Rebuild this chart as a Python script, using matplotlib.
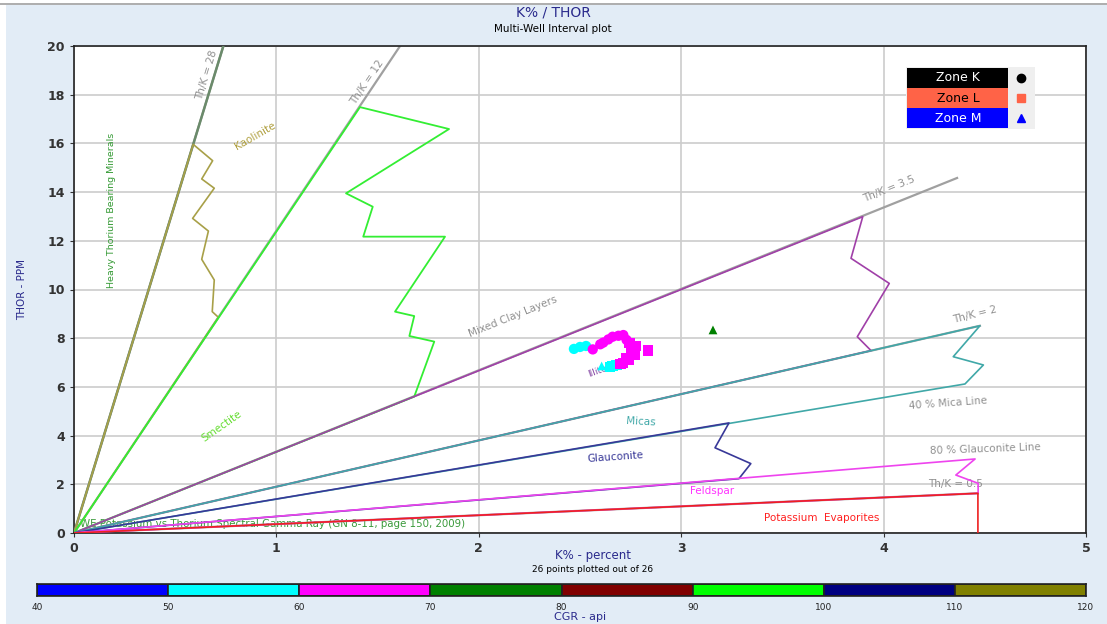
import numpy as np
import matplotlib
matplotlib.use('Agg')
import matplotlib.pyplot as plt
from matplotlib.colors import ListedColormap, BoundaryNorm
from matplotlib.patches import Rectangle
from matplotlib.lines import Line2D

# ---- data ----
# zone boundaries (K%, Th ppm)
kaolinite_k = [0, 0.589, 0.685, 0.631, 0.693, 0.586, 0.664, 0.631, 0.693, 0.683, 0.713, 0]
kaolinite_th = [0, 15.96, 15.29, 14.54, 14.16, 12.92, 12.40, 11.24, 10.39, 9.09, 8.86, 0]
smectite_k = [0, 1.413, 1.853, 1.344, 1.476, 1.429, 1.833, 1.586, 1.681, 1.657, 1.780, 1.681, 0]
smectite_th = [0, 17.49, 16.59, 13.95, 13.40, 12.17, 12.17, 9.09, 8.91, 8.09, 7.86, 5.60, 0]
illite_k = [0, 3.897, 3.839, 4.028, 3.870, 3.938, 0]
illite_th = [0, 12.99, 11.28, 10.25, 8.06, 7.49, 0]
mica_k = [0, 4.476, 4.344, 4.493, 4.402, 0]
mica_th = [0, 8.51, 7.24, 6.90, 6.12, 0]
glauconite_k = [0, 3.236, 3.167, 3.344, 3.285, 0]
glauconite_th = [0, 4.52, 3.50, 2.85, 2.23, 0]
feldspar_k = [0, 4.452, 4.357, 4.467, 4.467, 0]
feldspar_th = [0, 3.04, 2.38, 2.04, 1.63, 0]
evaporite_k = [0, 4.466, 4.466]
evaporite_th = [0, 1.63, 0]

# Th/K reference lines: end points
ref_k = [0.738, 1.611, 4.363, 4.476, 4.466]
ref_th = [20.0, 20.0, 14.58, 8.51, 1.63]

# well points
zone_k_k = [2.470, 2.500, 2.530, 2.563, 2.615, 2.661, 2.714, 2.730, 2.640, 2.690, 2.600]
zone_k_th = [7.56, 7.64, 7.68, 7.54, 7.82, 8.06, 8.13, 7.93, 7.95, 8.10, 7.75]
zone_k_cgr = [55, 55, 55, 65, 65, 65, 65, 65, 65, 65, 65]
zone_l_k = [2.777, 2.755, 2.772, 2.739, 2.837, 2.711, 2.760, 2.745, 2.730, 2.681, 2.660, 2.648, 2.700]
zone_l_th = [7.68, 7.45, 7.31, 7.10, 7.49, 6.99, 7.60, 7.80, 7.20, 6.90, 6.85, 6.83, 6.95]
zone_l_cgr = [65, 65, 65, 65, 65, 65, 65, 65, 65, 55, 55, 55, 65]
zone_m_k = [2.607, 3.157]
zone_m_th = [6.86, 8.34]
zone_m_cgr = [55, 75]

cgr_bounds = [40, 50, 60, 70, 80, 90, 100, 110, 120]
cgr_colors = ['#0000ff', '#00ffff', '#ff00ff', '#008000', '#800000', '#00ff00', '#000080', '#808000']

W, H = 1107, 624
bg = '#e2ecf6'
navy = '#2a2a8c'

fig = plt.figure(figsize=(W / 100, H / 100), dpi=100, facecolor='white')
fig.patches.append(Rectangle((6 / W, 0), 1 - 6 / W, (H - 5) / H, transform=fig.transFigure,
                             facecolor=bg, edgecolor='none', zorder=-10))
fig.lines.append(Line2D([0, 1], [(H - 4) / H] * 2, transform=fig.transFigure, color='#a0a0a0', lw=1.2))

def fx(px):
    return px / W

def fy(py):
    return 1 - py / H

ax = fig.add_axes([fx(74), fy(533), fx(1086) - fx(74), fy(46) - fy(533)])
ax.set_facecolor('white')
ax.set_xlim(0, 5)
ax.set_ylim(0, 20)
ax.set_xticks(range(0, 6))
ax.set_yticks(range(0, 21, 2))
ax.grid(True, color='#cccccc', lw=1.2, zorder=0)
ax.set_axisbelow(True)
ax.tick_params(labelsize=9, colors='#333333', length=3)
for lab in ax.get_xticklabels() + ax.get_yticklabels():
    lab.set_fontweight('bold')
for s in ax.spines.values():
    s.set_color('#222222')
    s.set_linewidth(1.2)

cmap = ListedColormap(cgr_colors)
norm = BoundaryNorm(cgr_bounds, cmap.N)

# reference Th/K lines (grey)
for k, th in zip(ref_k, ref_th):
    ax.plot([0, k], [0, th], color='#a0a0a0', lw=1.6, zorder=2)
ax.plot([0, ref_k[0]], [0, ref_th[0]], color='#6b8b6b', lw=1.8, zorder=3)

# zone outlines
ax.plot(kaolinite_k, kaolinite_th, color='#a8a048', lw=1.2, zorder=3)
ax.plot(smectite_k, smectite_th, color='#33ee33', lw=1.3, zorder=3)
ax.plot(illite_k, illite_th, color='#a040a8', lw=1.2, zorder=3)
ax.plot(mica_k, mica_th, color='#40a8a8', lw=1.2, zorder=3)
ax.plot(glauconite_k, glauconite_th, color='#383898', lw=1.2, zorder=3)
ax.plot(feldspar_k, feldspar_th, color='#ee44ee', lw=1.2, zorder=3)
ax.plot(evaporite_k, evaporite_th, color='#ee2020', lw=1.2, zorder=3)

# zone labels
labels = [
    ('Th/K = 28', 0.657, 18.81, 73, '#909090', 7.5),
    ('Th/K = 12', 1.448, 18.52, 56, '#909090', 7.5),
    ('Kaolinite', 0.894, 16.30, 30, '#b0a040', 7.5),
    ('Heavy Thorium Bearing Minerals', 0.183, 13.27, 90, '#339933', 6.8),
    ('Smectite', 0.731, 4.39, 35, '#66dd33', 7.5),
    ('Mixed Clay Layers', 2.169, 8.87, 22, '#909090', 7.5),
    ('Th/K = 3.5', 4.027, 14.13, 22, '#909090', 7.5),
    ('Illite', 2.589, 6.65, 20, '#8040a0', 6.5),
    ('Th/K = 2', 4.452, 8.95, 14, '#909090', 7.5),
    ('Micas', 2.801, 4.56, -3, '#40a8a8', 7.5),
    ('40 % Mica Line', 4.318, 5.34, 4, '#909090', 7.5),
    ('Glauconite', 2.673, 3.12, 4, '#383898', 7.5),
    ('80 % Glauconite Line', 4.501, 3.45, 2, '#909090', 7.5),
    ('Feldspar', 3.152, 1.72, 0, '#ff33ff', 7.5),
    ('Th/K = 0.5', 4.353, 2.01, 0, '#909090', 7.5),
    ('Potassium  Evaporites', 3.696, 0.62, 0, '#ff2020', 7.5),
]
for txt, k, th, rot, col, fs in labels:
    ax.text(k, th, txt, rotation=rot, color=col, fontsize=fs, ha='center', va='center',
            rotation_mode='anchor', zorder=2.5)

ax.text(0.03, 0.37, 'WE Potassium vs Thorium Spectral Gamma Ray (GN 8-11, page 150, 2009)',
        color='#3a9a3a', fontsize=7.4, ha='left', va='center', zorder=1.5)

# well data
ax.scatter(zone_k_k, zone_k_th, c=zone_k_cgr, cmap=cmap, norm=norm, marker='o', s=55,
           edgecolors='none', zorder=5)
ax.scatter(zone_l_k, zone_l_th, c=zone_l_cgr, cmap=cmap, norm=norm, marker='s', s=55,
           edgecolors='none', zorder=5)
ax.scatter(zone_m_k, zone_m_th, c=zone_m_cgr, cmap=cmap, norm=norm, marker='^', s=40,
           edgecolors='none', zorder=5)

# titles and axis labels
fig.text(fx(553), fy(12), 'K% / THOR', color=navy, fontsize=10, ha='center', va='center')
fig.text(fx(553), fy(29), 'Multi-Well Interval plot', color='black', fontsize=7.5, ha='center', va='center')
fig.text(fx(22), fy(290), 'THOR - PPM', color=navy, fontsize=7.5, rotation=90, ha='center', va='center')
fig.text(fx(593), fy(555), 'K% - percent', color=navy, fontsize=8.5, ha='center', va='center')
fig.text(fx(593), fy(569), '26 points plotted out of 26', color='black', fontsize=6.5, ha='center', va='center')

# legend
lax = fig.add_axes([fx(906), fy(129), fx(1035) - fx(906), fy(67) - fy(129)])
lax.set_xlim(0, 129)
lax.set_ylim(0, 62)
lax.axis('off')
lax.add_patch(Rectangle((0, 0), 129, 62, facecolor='#efefef', edgecolor='none'))
zone_names = ['Zone K', 'Zone L', 'Zone M']
zone_bg = ['#000000', '#ff6347', '#0000ff']
zone_fg = ['white', 'black', 'white']
zone_mk = ['o', 's', '^']
zone_mc = ['black', '#ff6347', '#0000ff']
for i in range(3):
    y0 = 62 - (i + 1) * 20.5
    lax.add_patch(Rectangle((1, y0), 101, 20, facecolor=zone_bg[i], edgecolor='none'))
    lax.text(52, y0 + 10, zone_names[i], color=zone_fg[i], fontsize=9, ha='center', va='center')
    lax.plot(115, y0 + 10, marker=zone_mk[i], color=zone_mc[i], markersize=6, ls='none')

# CGR colour bar
cax = fig.add_axes([fx(37), fy(596), fx(1086) - fx(37), fy(584) - fy(596)])
for i, c in enumerate(cgr_colors):
    cax.add_patch(Rectangle((cgr_bounds[i], 0), 10, 1, facecolor=c, edgecolor='#222222', lw=1.2))
cax.set_xlim(cgr_bounds[0], cgr_bounds[-1])
cax.set_ylim(0, 1)
cax.set_yticks([])
cax.set_xticks(cgr_bounds)
cax.tick_params(length=0, labelsize=6.5, colors='#222222', pad=5)
for s in cax.spines.values():
    s.set_color('#222222')
    s.set_linewidth(1.2)
fig.text(fx(580), fy(617), 'CGR - api', color=navy, fontsize=8, ha='center', va='center')

fig.savefig('out.png', dpi=100, facecolor=fig.get_facecolor())
